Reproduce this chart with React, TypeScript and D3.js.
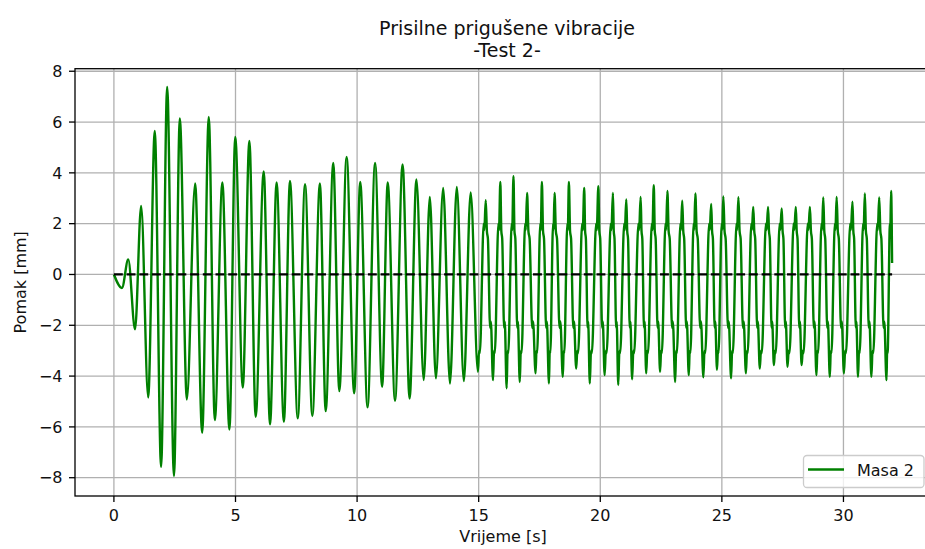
import React from 'react';
import * as d3 from 'd3';

const W = 925;
const H = 549;

const titleLines = ['Prisilne prigušene vibracije', '-Test 2-'];
const xLabel = 'Vrijeme [s]';
const yLabel = 'Pomak [mm]';
const legendLabel = 'Masa 2';

const xTicks = [0, 5, 10, 15, 20, 25, 30];
const yTicks = [-8, -6, -4, -2, 0, 2, 4, 6, 8];
const xDomain = [-1.6, 33.6];
const yDomain = [-8.72, 8.1];

// turning points (time in s, displacement in mm)
const turnT = [
  0, 0.33, 0.59, 0.87, 1.12, 1.41, 1.68, 1.94, 2.19, 2.47, 2.71, 3.0, 3.34, 3.63, 3.9, 4.15,
  4.46, 4.75, 4.99, 5.3, 5.57, 5.83, 6.16, 6.42, 6.69, 6.99, 7.24, 7.56, 7.86, 8.16, 8.47, 8.71,
  9.02, 9.27, 9.57, 9.88, 10.13, 10.43, 10.74, 11.03, 11.26, 11.56, 11.87, 12.16, 12.44, 12.74,
  12.99, 13.24, 13.54, 13.82, 14.1, 14.39, 14.67, 14.97, 15.29, 15.59, 15.89, 16.15, 16.43,
  16.69, 16.99, 17.34, 17.6, 17.89, 18.12, 18.46, 18.71, 19.01, 19.34, 19.57, 19.92, 20.18,
  20.52, 20.74, 21.07, 21.31, 21.66, 21.89, 22.2, 22.46, 22.76, 23.08, 23.37, 23.64, 23.91,
  24.24, 24.56, 24.8, 25.06, 25.38, 25.68, 25.99, 26.29, 26.56, 26.9, 27.14, 27.46, 27.7,
  28.04, 28.28, 28.62, 28.89, 29.17, 29.44, 29.72, 30.02, 30.37, 30.6, 30.88, 31.15, 31.47,
  31.77, 31.96, 32.0,
];
const turnV = [
  0, -0.53, 0.59, -2.16, 2.7, -4.84, 5.65, -7.57, 7.38, -7.93, 6.14, -4.92, 3.58, -6.23, 6.2,
  -5.73, 3.62, -6.1, 5.41, -4.45, 5.26, -5.6, 4.06, -5.9, 3.62, -5.8, 3.68, -5.66, 3.55, -5.57,
  3.58, -5.38, 4.39, -4.59, 4.63, -4.68, 3.64, -5.23, 4.39, -4.42, 3.62, -4.97, 4.33, -4.88,
  3.74, -4.16, 3.05, -4.09, 3.41, -4.29, 3.45, -4.2, 3.23, -3.83, 2.92, -4.16, 3.64, -4.48,
  3.87, -4.23, 3.21, -3.89, 3.64, -4.29, 3.21, -4.03, 3.64, -3.7, 3.41, -4.29, 3.47, -3.96,
  3.21, -4.35, 2.95, -4.13, 3.05, -3.89, 3.51, -3.83, 3.29, -4.23, 2.9, -3.96, 3.19, -4.05,
  2.78, -3.75, 3.07, -4.09, 3.04, -3.89, 2.66, -3.7, 2.66, -3.57, 2.6, -3.63, 2.66, -3.57,
  2.66, -3.96, 3.03, -4.03, 3.05, -3.89, 2.86, -4.03, 3.19, -4.03, 3.03, -4.16, 3.29, 0.45,
];

// kinks seen on the edges of the later cycles (fraction of the edge, level in mm)
const kneeFrom = 14.8;
const riseKneeF = [0.14, 0.24, 0.74, 0.82];
const riseKneeV = [-3.0, -3.1, 2.0, 1.75];
const fallKneeF = [0.16, 0.3, 0.6, 0.7];
const fallKneeV = [1.7, 1.4, -2.1, -1.85];

const margin = { left: 75, right: 931, top: 68.7, bottom: 496 };

function buildPoints(): [number, number][] {
  const pts: [number, number][] = [];
  const n = turnT.length;
  for (let i = 0; i < n; i++) {
    pts.push([turnT[i], turnV[i]]);
    if (i < n - 2 && turnT[i] >= kneeFrom) {
      const t0 = turnT[i], t1 = turnT[i + 1];
      const v0 = turnV[i], v1 = turnV[i + 1];
      const rising = v1 > v0;
      const fs = rising ? riseKneeF : fallKneeF;
      const vs = rising ? riseKneeV : fallKneeV;
      const lo = Math.min(v0, v1), hi = Math.max(v0, v1);
      fs.forEach((f, k) => {
        const v = vs[k];
        if (v > lo + 0.2 && v < hi - 0.2) pts.push([t0 + f * (t1 - t0), v]);
      });
    }
  }
  return pts;
}

const fmt = (v: number) => (v < 0 ? '\u2212' + Math.abs(v) : String(v));

export default function App() {
  const x = d3.scaleLinear().domain(xDomain).range([margin.left, margin.right]);
  const y = d3.scaleLinear().domain(yDomain).range([margin.bottom, margin.top]);
  const pts = buildPoints();
  const line = d3
    .line<[number, number]>()
    .x((d) => x(d[0]))
    .y((d) => y(d[1]))
    .curve(d3.curveMonotoneX);
  const font = 'DejaVu Sans, sans-serif';
  const cx = (margin.left + margin.right) / 2;
  const cy = (margin.top + margin.bottom) / 2;
  const tEnd = turnT[turnT.length - 1];
  const txt = '#111';
  return (
    <svg
      width={W}
      height={H}
      style={{ position: 'absolute', left: 0, top: 0, display: 'block', background: '#fff' }}
      fontFamily={font}
    >
      <defs>
        <clipPath id="plot">
          <rect x={margin.left} y={margin.top} width={margin.right - margin.left} height={margin.bottom - margin.top} />
        </clipPath>
      </defs>
      <rect x={0} y={0} width={W} height={H} fill="#fff" />
      {/* grid */}
      <g stroke="#b0b0b0" strokeWidth={1.3}>
        {xTicks.map((t) => (
          <line key={'gx' + t} x1={x(t)} x2={x(t)} y1={margin.top} y2={margin.bottom} />
        ))}
        {yTicks.map((t) => (
          <line key={'gy' + t} x1={margin.left} x2={margin.right} y1={y(t)} y2={y(t)} />
        ))}
      </g>
      <g clipPath="url(#plot)">
        <path d={line(pts) || ''} fill="none" stroke="#008000" strokeWidth={2.4} strokeLinejoin="round" />
        <line
          x1={x(0)}
          x2={x(tEnd)}
          y1={y(0)}
          y2={y(0)}
          stroke="#000"
          strokeWidth={2.3}
          strokeDasharray="8.9 3.8"
        />
      </g>
      {/* spines */}
      <rect
        x={margin.left}
        y={margin.top}
        width={margin.right - margin.left}
        height={margin.bottom - margin.top}
        fill="none"
        stroke="#000"
        strokeWidth={1.3}
      />
      {/* ticks */}
      <g stroke="#000" strokeWidth={1.3}>
        {xTicks.map((t) => (
          <line key={'tx' + t} x1={x(t)} x2={x(t)} y1={margin.bottom} y2={margin.bottom + 6} />
        ))}
        {yTicks.map((t) => (
          <line key={'ty' + t} x1={margin.left - 6} x2={margin.left} y1={y(t)} y2={y(t)} />
        ))}
      </g>
      <g fontSize={16} fill={txt}>
        {xTicks.map((t) => (
          <text key={'lx' + t} x={x(t)} y={520.5} textAnchor="middle">
            {fmt(t)}
          </text>
        ))}
        {yTicks.map((t) => (
          <text key={'ly' + t} x={62.5} y={y(t) + 5.7} textAnchor="end">
            {fmt(t)}
          </text>
        ))}
      </g>
      {/* axis labels */}
      <text x={cx} y={542} textAnchor="middle" fontSize={16} fill={txt}>
        {xLabel}
      </text>
      <text transform={`translate(26,${cy}) rotate(-90)`} textAnchor="middle" fontSize={16} fill={txt}>
        {yLabel}
      </text>
      {/* title */}
      <text x={cx + 4} y={35} textAnchor="middle" fontSize={19} fill={txt}>
        {titleLines[0]}
      </text>
      <text x={cx + 4} y={57.3} textAnchor="middle" fontSize={19} fill={txt}>
        {titleLines[1]}
      </text>
      {/* legend */}
      <g>
        <rect x={803.5} y={455.5} width={120.5} height={32} rx={3.5} fill="#fff" fillOpacity={0.8} stroke="#cccccc" strokeWidth={1.3} />
        <line x1={808} x2={844} y1={469.5} y2={469.5} stroke="#008000" strokeWidth={2.4} />
        <text x={857} y={475.5} fontSize={16} fill={txt}>
          {legendLabel}
        </text>
      </g>
    </svg>
  );
}
